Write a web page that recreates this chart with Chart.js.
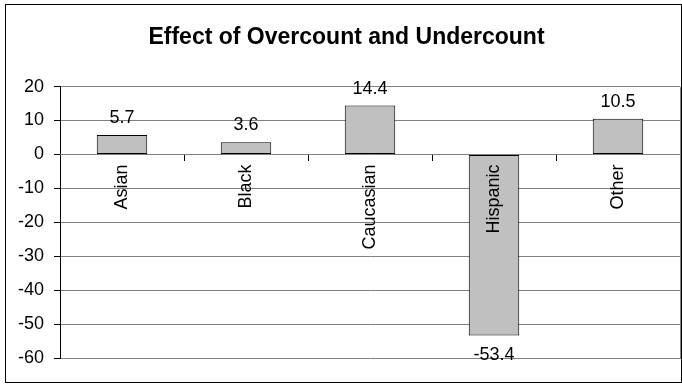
<!DOCTYPE html>
<html><head><meta charset="utf-8">
<script src="https://cdn.jsdelivr.net/npm/chart.js@4.4.1/dist/chart.umd.min.js"></script>
<style>html,body{margin:0;padding:0;background:#fff;} canvas{display:block;}</style>
</head><body>
<canvas id="c" width="682" height="384"></canvas>
<script>
const categories = ['Asian', 'Black', 'Caucasian', 'Hispanic', 'Other'];
const values = [5.7, 3.6, 14.4, -53.4, 10.5];
const titleText = 'Effect of Overcount and Undercount';
const yMin = -60, yMax = 20, yStep = 10;

const FONT = "'Liberation Sans', Arial, sans-serif";
const SMALL = 18;

const framePlugin = {
  id: 'frame',
  beforeDraw(chart) {
    const ctx = chart.ctx;
    ctx.save();
    ctx.fillStyle = '#fff';
    ctx.fillRect(0, 0, chart.width, chart.height);
    ctx.strokeStyle = '#000';
    ctx.lineWidth = 1;
    ctx.strokeRect(5.5, 4.5, 676, 378);
    ctx.restore();
  },
  afterDraw(chart) {
    const a = chart.chartArea, ctx = chart.ctx;
    ctx.save();
    ctx.strokeStyle = '#808080';
    ctx.lineWidth = 1;
    ctx.beginPath();
    ctx.moveTo(Math.round(a.right) + 0.5, Math.round(a.top));
    ctx.lineTo(Math.round(a.right) + 0.5, Math.round(a.bottom) + 1);
    ctx.stroke();
    ctx.restore();
  }
};

const valueLabels = {
  id: 'valueLabels',
  afterDatasetsDraw(chart) {
    const ctx = chart.ctx;
    const meta = chart.getDatasetMeta(0);
    const data = chart.data.datasets[0].data;
    ctx.save();
    ctx.font = SMALL + 'px ' + FONT;
    ctx.fillStyle = '#000';
    ctx.textAlign = 'center';
    ctx.textBaseline = 'middle';
    meta.data.forEach((bar, i) => {
      const v = data[i];
      const y = v >= 0 ? bar.y - 17 : bar.y + 19;
      ctx.fillText(v.toFixed(1), bar.x, y);
    });
    ctx.restore();
  }
};

new Chart(document.getElementById('c'), {
  type: 'bar',
  data: {
    labels: categories,
    datasets: [{
      data: values,
      backgroundColor: '#C0C0C0',
      borderColor: '#000',
      borderWidth: 1,
      borderSkipped: false,
      categoryPercentage: 1,
      barPercentage: 0.407
    }]
  },
  options: {
    responsive: false,
    animation: false,
    devicePixelRatio: 1,
    layout: { padding: { left: 13, right: 2, top: 0, bottom: 26 } },
    plugins: {
      legend: { display: false },
      tooltip: { enabled: false },
      title: {
        display: true,
        text: titleText,
        color: '#000',
        font: { family: FONT, size: 23, weight: 'bold' },
        padding: { top: 24, bottom: 35 }
      }
    },
    scales: {
      x: {
        position: { y: 0 },
        offset: true,
        grid: { display: true, drawOnChartArea: false, drawTicks: true, tickLength: 6, tickColor: '#000', offset: true, z: 1 },
        border: { display: true, color: '#808080', z: 1 },
        ticks: { z: 1, autoSkip: false, minRotation: 90, maxRotation: 90, padding: 4, color: '#000', font: { family: FONT, size: SMALL } }
      },
      y: {
        min: yMin,
        max: yMax,
        ticks: { stepSize: yStep, padding: 10, color: '#000', font: { family: FONT, size: SMALL } },
        grid: { color: '#808080', tickColor: '#000', tickLength: 6 },
        border: { color: '#000' },
        afterFit(s) { s.width = 47; }
      }
    }
  },
  plugins: [framePlugin, valueLabels]
});
</script>
</body></html>
